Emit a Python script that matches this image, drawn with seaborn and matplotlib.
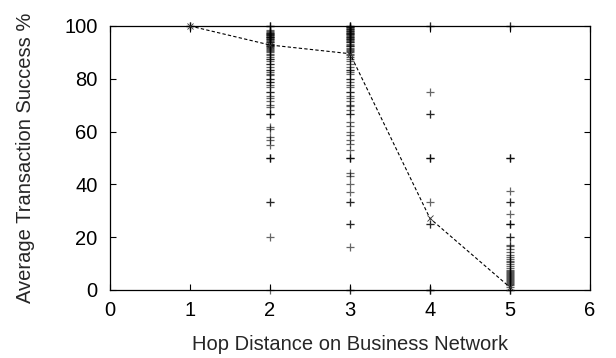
import numpy as np
import pandas as pd
import seaborn as sns
import matplotlib.pyplot as plt

# success % of individual transactions, grouped by hop distance
# (repeated values are drawn on top of each other, as in the original)
hop_1 = [100, 100, 100]
hop_2 = [100, 100, 100,
         98.5, 98, 97.8, 97.5, 97.2, 97, 96.8, 96.7, 96.4, 96.3, 96, 95.8, 95.7, 95.5, 95.2,
         95, 94.7, 94.4, 94.1, 93.8, 93.3, 93, 92.9, 92.6, 92.3, 92, 91.7, 91.3, 90.9, 90.5,
         90, 89.5, 88.9, 88.2, 87.5, 87.5, 86.7, 85.7, 85.7, 84.6, 83.3, 83.3, 82.4, 81.8,
         81.3, 80, 80, 78.9, 78.6, 77.8, 76.9, 75, 75, 73.3, 72.7, 71.4, 70, 69.2,
         66.7, 66.7, 66.7, 61.9, 60.9, 58.1, 56.8, 54.9, 50, 50, 50, 33.3, 33.3, 20, 0]
hop_3 = [100, 100, 100,
         99.7, 99.5, 99.2, 99, 98.8, 98.5, 98.2, 98, 97.8, 97.5, 97.2, 97, 96.8, 96.4, 96.2,
         96, 95.7, 95.5, 95.2, 95, 94.7, 94.4, 94.1, 93.8, 93.3, 92.9, 92.6, 92.3, 91.7,
         91.3, 90.9, 90.5, 90, 89.5, 88.9, 88.2, 87.5, 86.7, 85.7, 84.6, 83.3, 83.3, 82.4,
         81.8, 80, 80, 78.6, 77.8, 76.9, 75, 75, 73.3, 72.7, 71.4, 70, 69.7, 68.2,
         66.7, 66.7, 63.8, 62.1, 60, 58.7, 56.8, 55.3, 53, 50, 50, 50, 44.2, 43.2, 40.2,
         37.2, 33.3, 33.3, 25, 25, 16.4, 0, 0]
hop_4 = [100, 100, 75, 66.7, 66.7, 50, 50, 50, 33.3, 25, 25, 0, 0, 0]
hop_5 = [100, 100, 50, 50, 50, 37.5, 33.3, 33.3, 28.6, 25, 25, 25, 20, 20,
         17, 16.7, 15.4, 14.3, 13.3, 12.5, 11.8, 11.1, 10.5, 10, 9.1, 8.3, 7.7, 7.1,
         6.7, 6.3, 5.9, 5.6, 5.3, 5, 4.5, 4, 3.6, 3.3, 3, 2.6, 2.2, 1.8, 1.25, 0, 0, 0]

# average success per hop distance
mean_hops = [1, 2, 3, 4, 5]
mean_success = [100, 92.8, 89.5, 27.1, 1.0]

x_ticks = [0, 1, 2, 3, 4, 5, 6]
y_ticks = [0, 20, 40, 60, 80, 100]

groups = {1: hop_1, 2: hop_2, 3: hop_3, 4: hop_4, 5: hop_5}
points = pd.DataFrame(
    [(h, v) for h, vals in groups.items() for v in vals],
    columns=['hop', 'success'])
means = pd.DataFrame({'hop': mean_hops, 'success': mean_success})

sns.set_style('ticks')
plt.rcParams['font.family'] = ['Liberation Sans', 'DejaVu Sans']

fig = plt.figure(figsize=(6.16, 3.58), dpi=100)
ax = fig.add_axes([0.1786, 0.19, 0.7792, 0.7374])

sns.scatterplot(data=points, x='hop', y='success', marker='+', color='black',
                s=40, linewidth=0.9, alpha=0.6, ax=ax, zorder=3)
ax.collections[-1].set_clip_on(False)
sns.lineplot(data=means, x='hop', y='success', color='black', linewidth=0.8,
             marker='x', markersize=5, markeredgewidth=0.6,
             markeredgecolor='#333333', ax=ax, zorder=4)
ax.lines[-1].set_dashes([3, 2])
ax.lines[-1].set_clip_on(False)

ax.set_xlim(0, 6)
ax.set_ylim(0, 100)
ax.set_xticks(x_ticks)
ax.set_yticks(y_ticks)
ax.tick_params(direction='in', length=4, width=0.8, top=True, right=True,
               labelsize=14.5, colors='black')
ax.tick_params(axis='x', pad=8)
ax.tick_params(axis='y', pad=9)
for sp in ax.spines.values():
    sp.set_visible(True)
    sp.set_linewidth(0.9)
    sp.set_color('black')

ax.set_xlabel('Hop Distance on Business Network', fontsize=14.5, labelpad=11)
ax.set_ylabel('Average Transaction Success %', fontsize=14.5, labelpad=21)

fig.savefig('out.png', dpi=100)
